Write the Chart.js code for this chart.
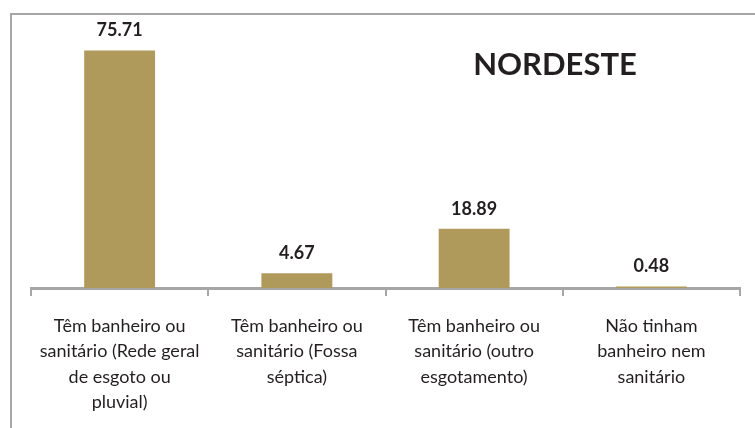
<!DOCTYPE html>
<html><head><meta charset="utf-8">
<script src="https://cdn.jsdelivr.net/npm/chart.js@4.4.0/dist/chart.umd.min.js"></script>
<style>html,body{margin:0;padding:0;background:#fff;}#wrap{width:755px;height:428px;position:relative;}</style>
</head><body>
<div id="wrap"><canvas id="c" width="755" height="428"></canvas></div>
<script>
const categories = [
  ["Têm banheiro ou", "sanitário (Rede geral", "de esgoto ou", "pluvial)"],
  ["Têm banheiro ou", "sanitário (Fossa", "séptica)"],
  ["Têm banheiro ou", "sanitário (outro", "esgotamento)"],
  ["Não tinham", "banheiro nem", "sanitário"]
];
const values = [75.71, 4.67, 18.89, 0.48];
const title = "NORDESTE";

const frame = {
  id: 'frame',
  beforeDraw(chart) {
    const ctx = chart.ctx;
    ctx.save();
    ctx.fillStyle = '#fff';
    ctx.fillRect(0, 0, chart.width, chart.height);
    ctx.strokeStyle = '#A6A6A6';
    ctx.lineWidth = 2;
    ctx.beginPath();
    ctx.moveTo(11, 428);
    ctx.lineTo(11, 14);
    ctx.lineTo(755, 14);
    ctx.stroke();
    ctx.restore();
  },
  afterDatasetsDraw(chart) {
    const ctx = chart.ctx;
    ctx.save();
    ctx.fillStyle = '#231F20';
    ctx.font = 'bold 18px Lato';
    ctx.textAlign = 'center';
    ctx.textBaseline = 'alphabetic';
    chart.getDatasetMeta(0).data.forEach((bar, i) => {
      ctx.fillText(values[i].toFixed(2), bar.x, bar.y - 14);
    });
    ctx.font = 'bold 31px Lato';
    ctx.fillText(title, 555, 75);
    ctx.restore();
  }
};

new Chart(document.getElementById('c'), {
  type: 'bar',
  data: {
    labels: categories,
    datasets: [{
      data: values,
      backgroundColor: '#AF9A5B',
      borderWidth: 0,
      barPercentage: 0.4,
      categoryPercentage: 1.0
    }]
  },
  options: {
    responsive: false,
    animation: false,
    devicePixelRatio: 1,
    layout: { padding: { left: 31, right: 15, top: 37, bottom: 0 } },
    plugins: { legend: { display: false }, tooltip: { enabled: false } },
    scales: {
      y: { display: false, min: 0, max: 80 },
      x: {
        offset: true,
        afterFit(s) { s.height = 140; },
        border: { display: true, color: '#A6A6A6', width: 3 },
        grid: { offset: true, display: true, drawOnChartArea: false, drawTicks: true, tickLength: 8, color: '#A6A6A6', lineWidth: 2 },
        ticks: {
          color: '#231F20',
          font: { family: 'Lato', size: 18, lineHeight: 1.42 },
          padding: 17,
          maxRotation: 0,
          autoSkip: false
        }
      }
    }
  },
  plugins: [frame]
});
</script>
</body></html>
